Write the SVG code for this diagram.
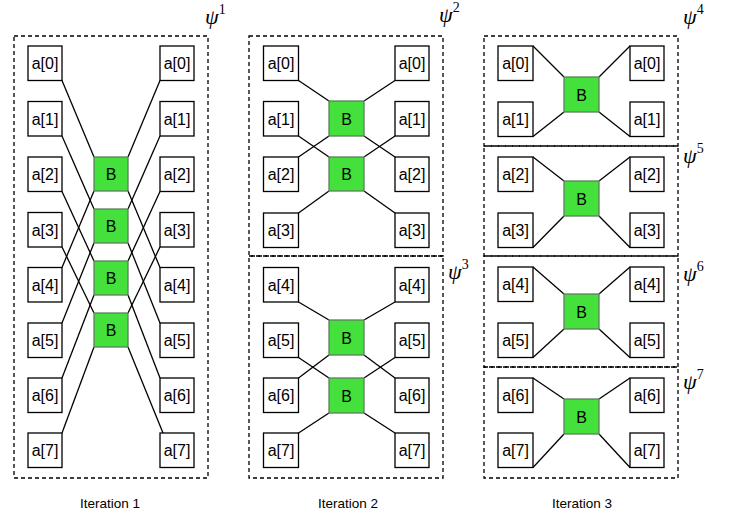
<svg xmlns="http://www.w3.org/2000/svg" width="732" height="514" viewBox="0 0 732 514">
<style>
.frame{fill:none;stroke:#000;stroke-width:1.3;stroke-dasharray:4 3}
.n{fill:#fff;stroke:#000;stroke-width:1.3}
.b{fill:#44E03C;stroke:#5f7f5f;stroke-width:1.3}
.t{font-family:"Liberation Sans",Arial,sans-serif;font-size:16px;text-anchor:middle;fill:#000}
.lab{font-family:"Liberation Sans",Arial,sans-serif;font-size:13.5px;text-anchor:middle;fill:#000}
.psi{font-family:"Liberation Serif","Times New Roman",serif;font-size:22px;font-style:italic;fill:#000}
.sup{font-style:normal;font-size:14px}
.c line{stroke:#000;stroke-width:1.3}
</style>
<rect width="732" height="514" fill="#fff"/>
<g id="frames">
<rect class="frame" x="14" y="36" width="194" height="442"/>
<rect class="frame" x="249" y="36" width="194" height="220"/>
<rect class="frame" x="249" y="256" width="194" height="222"/>
<rect class="frame" x="484" y="36" width="194" height="110"/>
<rect class="frame" x="484" y="146" width="194" height="110"/>
<rect class="frame" x="484" y="256" width="194" height="111"/>
<rect class="frame" x="484" y="367" width="194" height="111"/>
</g>
<g id="connectors" class="c">
<line x1="62" y1="80.5" x2="94" y2="157"/>
<line x1="62" y1="136" x2="94" y2="209"/>
<line x1="62" y1="191.5" x2="94" y2="261"/>
<line x1="62" y1="247" x2="94" y2="313"/>
<line x1="62" y1="267.5" x2="94" y2="191"/>
<line x1="62" y1="323" x2="94" y2="243"/>
<line x1="62" y1="378" x2="94" y2="295"/>
<line x1="62" y1="433" x2="94" y2="347"/>
<line x1="160" y1="80.5" x2="128" y2="157"/>
<line x1="160" y1="136" x2="128" y2="209"/>
<line x1="160" y1="191.5" x2="128" y2="261"/>
<line x1="160" y1="247" x2="128" y2="313"/>
<line x1="160" y1="267.5" x2="128" y2="191"/>
<line x1="160" y1="323" x2="128" y2="243"/>
<line x1="160" y1="378" x2="128" y2="295"/>
<line x1="163" y1="433" x2="128" y2="347"/>
<line x1="298.5" y1="80.5" x2="329" y2="101"/>
<line x1="298.5" y1="157" x2="329" y2="136"/>
<line x1="298.5" y1="136" x2="329" y2="157"/>
<line x1="298.5" y1="213" x2="329" y2="191"/>
<line x1="395" y1="80.5" x2="364" y2="101"/>
<line x1="395" y1="157" x2="364" y2="136"/>
<line x1="395" y1="136" x2="364" y2="157"/>
<line x1="395" y1="213" x2="364" y2="191"/>
<line x1="298.5" y1="302" x2="329" y2="320"/>
<line x1="298.5" y1="378" x2="329" y2="355"/>
<line x1="298.5" y1="357.5" x2="329" y2="378"/>
<line x1="298.5" y1="433" x2="329" y2="413"/>
<line x1="395" y1="302" x2="364" y2="320"/>
<line x1="395" y1="378" x2="364" y2="355"/>
<line x1="395" y1="357.5" x2="364" y2="378"/>
<line x1="395" y1="433" x2="364" y2="413"/>
<line x1="533" y1="46" x2="564" y2="77"/>
<line x1="533" y1="136.5" x2="564" y2="112"/>
<line x1="630" y1="46" x2="599" y2="77"/>
<line x1="630" y1="136.5" x2="599" y2="112"/>
<line x1="533" y1="157" x2="564" y2="181"/>
<line x1="533" y1="247.5" x2="564" y2="216"/>
<line x1="630" y1="157" x2="599" y2="181"/>
<line x1="630" y1="247.5" x2="599" y2="216"/>
<line x1="533" y1="267" x2="564" y2="294"/>
<line x1="533" y1="357.5" x2="564" y2="329"/>
<line x1="630" y1="267" x2="599" y2="294"/>
<line x1="630" y1="357.5" x2="599" y2="329"/>
<line x1="533" y1="378" x2="564" y2="399"/>
<line x1="533" y1="467.5" x2="564" y2="434"/>
<line x1="630" y1="378" x2="599" y2="399"/>
<line x1="630" y1="467.5" x2="599" y2="434"/>
</g>
<g id="i1-l0"><rect class="n" x="28" y="46" width="34" height="34.5"/><text class="t" x="45" y="69">a[0]</text></g>
<g id="i1-l1"><rect class="n" x="28" y="101.5" width="34" height="34.5"/><text class="t" x="45" y="124.5">a[1]</text></g>
<g id="i1-l2"><rect class="n" x="28" y="157" width="34" height="34.5"/><text class="t" x="45" y="180">a[2]</text></g>
<g id="i1-l3"><rect class="n" x="28" y="212.5" width="34" height="34.5"/><text class="t" x="45" y="235.5">a[3]</text></g>
<g id="i1-l4"><rect class="n" x="28" y="267.5" width="34" height="34.5"/><text class="t" x="45" y="290.5">a[4]</text></g>
<g id="i1-l5"><rect class="n" x="28" y="323" width="34" height="34.5"/><text class="t" x="45" y="346">a[5]</text></g>
<g id="i1-l6"><rect class="n" x="28" y="378" width="34" height="34.5"/><text class="t" x="45" y="401">a[6]</text></g>
<g id="i1-l7"><rect class="n" x="28" y="433" width="34" height="34.5"/><text class="t" x="45" y="456">a[7]</text></g>
<g id="i1-r0"><rect class="n" x="160" y="46" width="34" height="34.5"/><text class="t" x="177" y="69">a[0]</text></g>
<g id="i1-r1"><rect class="n" x="160" y="101.5" width="34" height="34.5"/><text class="t" x="177" y="124.5">a[1]</text></g>
<g id="i1-r2"><rect class="n" x="160" y="157" width="34" height="34.5"/><text class="t" x="177" y="180">a[2]</text></g>
<g id="i1-r3"><rect class="n" x="160" y="212.5" width="34" height="34.5"/><text class="t" x="177" y="235.5">a[3]</text></g>
<g id="i1-r4"><rect class="n" x="160" y="267.5" width="34" height="34.5"/><text class="t" x="177" y="290.5">a[4]</text></g>
<g id="i1-r5"><rect class="n" x="160" y="323" width="34" height="34.5"/><text class="t" x="177" y="346">a[5]</text></g>
<g id="i1-r6"><rect class="n" x="160" y="378" width="34" height="34.5"/><text class="t" x="177" y="401">a[6]</text></g>
<g id="i1-r7"><rect class="n" x="160" y="433" width="34" height="34.5"/><text class="t" x="177" y="456">a[7]</text></g>
<g id="i1-b0"><rect class="b" x="94" y="157" width="34" height="34"/><text class="t" x="111" y="180">B</text></g>
<g id="i1-b1"><rect class="b" x="94" y="209" width="34" height="34"/><text class="t" x="111" y="232">B</text></g>
<g id="i1-b2"><rect class="b" x="94" y="261" width="34" height="34"/><text class="t" x="111" y="284">B</text></g>
<g id="i1-b3"><rect class="b" x="94" y="313" width="34" height="34"/><text class="t" x="111" y="336">B</text></g>
<g id="i2-l0"><rect class="n" x="263.5" y="46" width="35" height="34.5"/><text class="t" x="281" y="69">a[0]</text></g>
<g id="i2-l1"><rect class="n" x="263.5" y="101.5" width="35" height="34.5"/><text class="t" x="281" y="124.5">a[1]</text></g>
<g id="i2-l2"><rect class="n" x="263.5" y="157" width="35" height="34.5"/><text class="t" x="281" y="180">a[2]</text></g>
<g id="i2-l3"><rect class="n" x="263.5" y="213" width="35" height="34.5"/><text class="t" x="281" y="236">a[3]</text></g>
<g id="i2-l4"><rect class="n" x="263.5" y="267.5" width="35" height="34.5"/><text class="t" x="281" y="290.5">a[4]</text></g>
<g id="i2-l5"><rect class="n" x="263.5" y="323" width="35" height="34.5"/><text class="t" x="281" y="346">a[5]</text></g>
<g id="i2-l6"><rect class="n" x="263.5" y="378" width="35" height="34.5"/><text class="t" x="281" y="401">a[6]</text></g>
<g id="i2-l7"><rect class="n" x="263.5" y="433" width="35" height="34.5"/><text class="t" x="281" y="456">a[7]</text></g>
<g id="i2-r0"><rect class="n" x="395" y="46" width="34" height="34.5"/><text class="t" x="412" y="69">a[0]</text></g>
<g id="i2-r1"><rect class="n" x="395" y="101.5" width="34" height="34.5"/><text class="t" x="412" y="124.5">a[1]</text></g>
<g id="i2-r2"><rect class="n" x="395" y="157" width="34" height="34.5"/><text class="t" x="412" y="180">a[2]</text></g>
<g id="i2-r3"><rect class="n" x="395" y="213" width="34" height="34.5"/><text class="t" x="412" y="236">a[3]</text></g>
<g id="i2-r4"><rect class="n" x="395" y="267.5" width="34" height="34.5"/><text class="t" x="412" y="290.5">a[4]</text></g>
<g id="i2-r5"><rect class="n" x="395" y="323" width="34" height="34.5"/><text class="t" x="412" y="346">a[5]</text></g>
<g id="i2-r6"><rect class="n" x="395" y="378" width="34" height="34.5"/><text class="t" x="412" y="401">a[6]</text></g>
<g id="i2-r7"><rect class="n" x="395" y="433" width="34" height="34.5"/><text class="t" x="412" y="456">a[7]</text></g>
<g id="i2-b0"><rect class="b" x="329" y="101" width="35" height="35"/><text class="t" x="346.5" y="124.5">B</text></g>
<g id="i2-b1"><rect class="b" x="329" y="157" width="35" height="34"/><text class="t" x="346.5" y="180">B</text></g>
<g id="i2-b2"><rect class="b" x="329" y="320" width="35" height="35"/><text class="t" x="346.5" y="343.5">B</text></g>
<g id="i2-b3"><rect class="b" x="329" y="378" width="35" height="35"/><text class="t" x="346.5" y="401.5">B</text></g>
<g id="i3-l0"><rect class="n" x="498" y="46" width="35" height="34.5"/><text class="t" x="515.5" y="69">a[0]</text></g>
<g id="i3-l1"><rect class="n" x="498" y="102" width="35" height="34.5"/><text class="t" x="515.5" y="125">a[1]</text></g>
<g id="i3-l2"><rect class="n" x="498" y="157" width="35" height="34.5"/><text class="t" x="515.5" y="180">a[2]</text></g>
<g id="i3-l3"><rect class="n" x="498" y="213" width="35" height="34.5"/><text class="t" x="515.5" y="236">a[3]</text></g>
<g id="i3-l4"><rect class="n" x="498" y="267" width="35" height="34.5"/><text class="t" x="515.5" y="290">a[4]</text></g>
<g id="i3-l5"><rect class="n" x="498" y="323" width="35" height="34.5"/><text class="t" x="515.5" y="346">a[5]</text></g>
<g id="i3-l6"><rect class="n" x="498" y="378" width="35" height="34.5"/><text class="t" x="515.5" y="401">a[6]</text></g>
<g id="i3-l7"><rect class="n" x="498" y="433" width="35" height="34.5"/><text class="t" x="515.5" y="456">a[7]</text></g>
<g id="i3-r0"><rect class="n" x="630" y="46" width="34" height="34.5"/><text class="t" x="647" y="69">a[0]</text></g>
<g id="i3-r1"><rect class="n" x="630" y="102" width="34" height="34.5"/><text class="t" x="647" y="125">a[1]</text></g>
<g id="i3-r2"><rect class="n" x="630" y="157" width="34" height="34.5"/><text class="t" x="647" y="180">a[2]</text></g>
<g id="i3-r3"><rect class="n" x="630" y="213" width="34" height="34.5"/><text class="t" x="647" y="236">a[3]</text></g>
<g id="i3-r4"><rect class="n" x="630" y="267" width="34" height="34.5"/><text class="t" x="647" y="290">a[4]</text></g>
<g id="i3-r5"><rect class="n" x="630" y="323" width="34" height="34.5"/><text class="t" x="647" y="346">a[5]</text></g>
<g id="i3-r6"><rect class="n" x="630" y="378" width="34" height="34.5"/><text class="t" x="647" y="401">a[6]</text></g>
<g id="i3-r7"><rect class="n" x="630" y="433" width="34" height="34.5"/><text class="t" x="647" y="456">a[7]</text></g>
<g id="i3-b0"><rect class="b" x="564" y="77" width="35" height="35"/><text class="t" x="581.5" y="100.5">B</text></g>
<g id="i3-b1"><rect class="b" x="564" y="181" width="35" height="35"/><text class="t" x="581.5" y="204.5">B</text></g>
<g id="i3-b2"><rect class="b" x="564" y="294" width="35" height="35"/><text class="t" x="581.5" y="317.5">B</text></g>
<g id="i3-b3"><rect class="b" x="564" y="399" width="35" height="35"/><text class="t" x="581.5" y="422.5">B</text></g>
<g id="psi1"><text class="psi" x="205" y="24">ψ<tspan class="sup" dy="-10">1</tspan></text></g>
<g id="psi2"><text class="psi" x="439" y="22">ψ<tspan class="sup" dy="-10">2</tspan></text></g>
<g id="psi3"><text class="psi" x="448" y="279">ψ<tspan class="sup" dy="-10">3</tspan></text></g>
<g id="psi4"><text class="psi" x="683" y="24">ψ<tspan class="sup" dy="-10">4</tspan></text></g>
<g id="psi5"><text class="psi" x="683" y="163">ψ<tspan class="sup" dy="-10">5</tspan></text></g>
<g id="psi6"><text class="psi" x="683" y="281">ψ<tspan class="sup" dy="-10">6</tspan></text></g>
<g id="psi7"><text class="psi" x="683" y="389">ψ<tspan class="sup" dy="-10">7</tspan></text></g>
<g id="it1"><text class="lab" x="110" y="508">Iteration 1</text></g>
<g id="it2"><text class="lab" x="348" y="508">Iteration 2</text></g>
<g id="it3"><text class="lab" x="582" y="508">Iteration 3</text></g>
</svg>
